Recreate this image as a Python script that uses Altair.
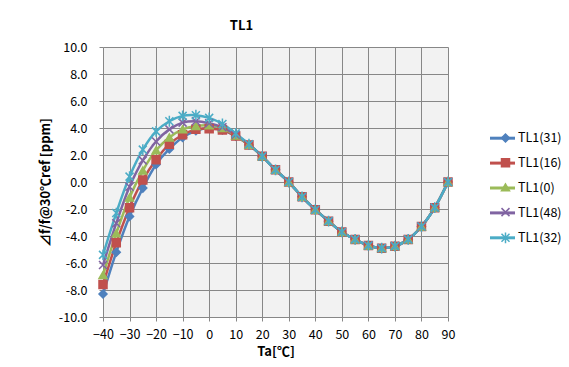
import altair as alt
import pandas as pd

# ---- data ----
temps = [-40, -35, -30, -25, -20, -15, -10, -5, 0, 5, 10, 15, 20, 25, 30,
         35, 40, 45, 50, 55, 60, 65, 70, 75, 80, 85, 90]
series_names = ["TL1(31)", "TL1(16)", "TL1(0)", "TL1(48)", "TL1(32)"]

tl1_31 = [-8.3, -5.2, -2.55, -0.45, 1.3, 2.45, 3.3, 3.8, 4.0, 3.85, 3.4,
          2.75, 1.9, 0.9, 0.0, -1.1, -2.05, -2.9, -3.7, -4.25, -4.7, -4.9,
          -4.75, -4.25, -3.3, -1.9, 0.0]
tl1_16 = [-7.6, -4.5, -1.9, 0.15, 1.65, 2.8, 3.5, 3.9, 3.95, 3.85, 3.4,
          2.75, 1.9, 0.9, 0.0, -1.1, -2.05, -2.9, -3.7, -4.25, -4.7, -4.9,
          -4.75, -4.25, -3.3, -1.9, 0.0]
tl1_0 = [-6.9, -3.8, -1.15, 0.85, 2.35, 3.3, 3.9, 4.15, 4.2, 4.0, 3.45,
         2.75, 1.9, 0.9, 0.0, -1.1, -2.05, -2.9, -3.7, -4.25, -4.7, -4.9,
         -4.75, -4.25, -3.3, -1.9, 0.0]
tl1_48 = [-6.15, -3.05, -0.35, 1.6, 3.0, 3.9, 4.4, 4.5, 4.35, 4.05, 3.5,
          2.8, 1.9, 0.9, 0.0, -1.1, -2.05, -2.9, -3.7, -4.25, -4.7, -4.9,
          -4.75, -4.25, -3.3, -1.9, 0.0]
tl1_32 = [-5.4, -2.3, 0.4, 2.4, 3.75, 4.5, 4.9, 4.95, 4.75, 4.3, 3.6,
          2.8, 1.9, 0.9, 0.0, -1.1, -2.05, -2.9, -3.7, -4.25, -4.7, -4.9,
          -4.75, -4.25, -3.3, -1.9, 0.0]

x_ticks = [-40, -30, -20, -10, 0, 10, 20, 30, 40, 50, 60, 70, 80, 90]
y_ticks = [-10, -8, -6, -4, -2, 0, 2, 4, 6, 8, 10]

colors = ["#4F81BD", "#C0504D", "#9BBB59", "#8064A2", "#4BACC6"]
X_PATH = "M-1,-1L1,1M-1,1L1,-1"
STAR_PATH = "M-1,-1L1,1M-1,1L1,-1M0,-1.35L0,1.35"
shapes = ["diamond", "square", "triangle-up", X_PATH, STAR_PATH]

marker_keys = ["m " + s for s in series_names]

all_series = [tl1_31, tl1_16, tl1_0, tl1_48, tl1_32]
rows = []
for name, key, vals in zip(series_names, marker_keys, all_series):
    for t, v in zip(temps, vals):
        rows.append({"Ta": t, "val": v, "series": name, "marker": key})
df = pd.DataFrame(rows)

FONT = "Noto Sans CJK JP"
GRID = "#878787"

x_enc = alt.X("Ta:Q",
              scale=alt.Scale(domain=[-40, 90], nice=False, zero=False),
              axis=alt.Axis(values=x_ticks, title="Ta[℃]", format="d",
                            labelFontSize=12.5, labelPadding=7,
                            labelOverlap=False, labelFlush=False,
                            tickSize=4, tickColor=GRID, domain=False,
                            grid=True, gridColor=GRID, gridOpacity=1,
                            titleFontSize=13, titleFontWeight="bold",
                            titlePadding=5, labelColor="#000",
                            titleColor="#000", labelFont=FONT, titleFont=FONT))
y_enc = alt.Y("val:Q",
              scale=alt.Scale(domain=[-10, 10], nice=False, zero=False),
              axis=alt.Axis(values=y_ticks,
                            title="⊿f/f@30℃ref [ppm]",
                            labelExpr="datum.value < 0 ? '-' + format(-datum.value, '.1f') : format(datum.value, '.1f')",
                            labelFontSize=12.5, labelPadding=12,
                            labelOverlap=False,
                            tickSize=4, tickColor=GRID, domain=False,
                            grid=True, gridColor=GRID, gridOpacity=1,
                            titleFontSize=13, titleFontWeight="bold",
                            titlePadding=6, labelColor="#000",
                            titleColor="#000", labelFont=FONT, titleFont=FONT))

lines = alt.Chart(df).mark_line(strokeWidth=2.5, interpolate="catmull-rom").encode(
    x=x_enc, y=y_enc,
    color=alt.Color("series:N", scale=alt.Scale(domain=series_names, range=colors),
                    sort=series_names,
                    legend=alt.Legend(title=None, orient="none", legendX=385.5,
                                      legendY=77.2, symbolType="stroke",
                                      symbolSize=625, symbolStrokeWidth=3,
                                      labelFontSize=12.5, labelFont=FONT,
                                      labelColor="#000", labelOffset=1.5,
                                      rowPadding=3.9, padding=0)),
)

pts_legend = alt.Legend(title=None, orient="none", legendX=394.5, legendY=83,
                        symbolSize=64, symbolStrokeWidth=1.5,
                        labelExpr="' '", labelFontSize=16, labelFont=FONT,
                        labelOffset=0, rowPadding=8.7, padding=0)

points = alt.Chart(df).mark_point(size=64, strokeWidth=1.5, opacity=1).encode(
    x=x_enc, y=y_enc,
    fill=alt.Fill("marker:N", scale=alt.Scale(domain=marker_keys, range=colors),
                  sort=marker_keys, legend=pts_legend),
    stroke=alt.Stroke("marker:N", scale=alt.Scale(domain=marker_keys, range=colors),
                      sort=marker_keys, legend=pts_legend),
    shape=alt.Shape("marker:N", scale=alt.Scale(domain=marker_keys, range=shapes),
                    sort=marker_keys, legend=pts_legend),
)

chart = alt.layer(lines, points).properties(
    width=345, height=270,
    title=alt.TitleParams("TL1", fontSize=13, fontWeight="bold", font=FONT,
                          anchor="middle", dx=-34, offset=8, color="#000"),
    autosize=alt.AutoSizeParams(type="none"),
    padding={"left": 95, "top": 39, "right": 113, "bottom": 46},
    background="white",
).configure_view(fill="#F2F2F2", stroke=None)

chart.save("out.html", embed_options={"renderer": "svg", "actions": False})
